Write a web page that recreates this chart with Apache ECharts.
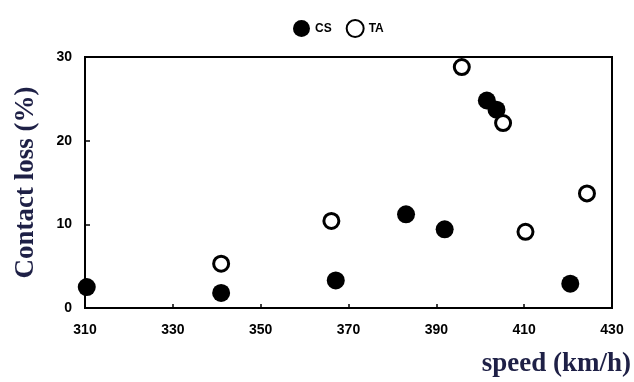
<!DOCTYPE html>
<html>
<head>
<meta charset="utf-8">
<script src="https://cdn.jsdelivr.net/npm/echarts@6/dist/echarts.min.js"></script>
<style>html,body{margin:0;padding:0;background:#fff;}#c{width:634px;height:382px;}</style>
</head>
<body>
<div id="c"></div>
<script>
var seriesNames = ['CS', 'TA'];
var speedCS = [310.4, 341.0, 367.1, 383.1, 391.9, 401.5, 403.7, 420.5];
var lossCS  = [2.5, 1.8, 3.3, 11.2, 9.4, 24.8, 23.7, 2.9];
var speedTA = [341.0, 366.1, 395.8, 405.2, 410.3, 424.3];
var lossTA  = [5.3, 10.4, 28.8, 22.1, 9.1, 13.7];
var xTicks = [310, 330, 350, 370, 390, 410, 430];
var yTicks = [0, 10, 20, 30];

function pairs(xs, ys) { return xs.map(function (x, i) { return [x, ys[i]]; }); }

var chart = echarts.init(document.getElementById('c'), null, {renderer: 'canvas'});
var tickFont = {fontFamily: 'Liberation Sans', fontWeight: 'bold', fontSize: 14, color: '#000'};
var titleColor = '#1e2046';
chart.setOption({
  animation: false,
  backgroundColor: '#fff',
  legend: {
    data: seriesNames,
    left: 288, top: 14,
    itemWidth: 17, itemHeight: 17, itemGap: 14,
    textStyle: {fontFamily: 'Liberation Sans', fontWeight: 'bold', fontSize: 12, color: '#000'}
  },
  grid: {left: 85, right: 20, top: 57, bottom: 74, show: true, borderColor: '#000', borderWidth: 2},
  xAxis: {
    type: 'value', min: xTicks[0], max: xTicks[xTicks.length - 1], interval: 20,
    name: 'speed (km/h)', nameLocation: 'end', nameGap: 19,
    nameTextStyle: {fontFamily: 'Liberation Serif', fontWeight: 'bold', fontSize: 27, color: titleColor,
      align: 'right', verticalAlign: 'top', padding: [43, 0, 0, 0]},
    axisLine: {lineStyle: {color: '#000', width: 2}},
    axisTick: {inside: true, length: 4, lineStyle: {color: '#000', width: 1.5}},
    axisLabel: Object.assign({margin: 15}, tickFont),
    splitLine: {show: false}
  },
  yAxis: {
    type: 'value', min: yTicks[0], max: yTicks[yTicks.length - 1], interval: 10,
    name: 'Contact loss (%)', nameLocation: 'middle', nameGap: 45,
    nameTextStyle: {fontFamily: 'Liberation Serif', fontWeight: 'bold', fontSize: 27, color: titleColor},
    axisLine: {lineStyle: {color: '#000', width: 2}},
    axisTick: {inside: true, length: 5, lineStyle: {color: '#000', width: 1.5}},
    axisLabel: Object.assign({margin: 13}, tickFont),
    splitLine: {show: false}
  },
  series: [
    {name: 'CS', type: 'scatter', symbol: 'circle', symbolSize: 18, clip: false,
     itemStyle: {color: '#000', opacity: 1}, data: pairs(speedCS, lossCS)},
    {name: 'TA', type: 'scatter', symbol: 'circle', symbolSize: 15, clip: false,
     itemStyle: {color: '#fff', borderColor: '#000', borderWidth: 3, opacity: 1}, data: pairs(speedTA, lossTA)}
  ]
});
</script>
</body>
</html>
